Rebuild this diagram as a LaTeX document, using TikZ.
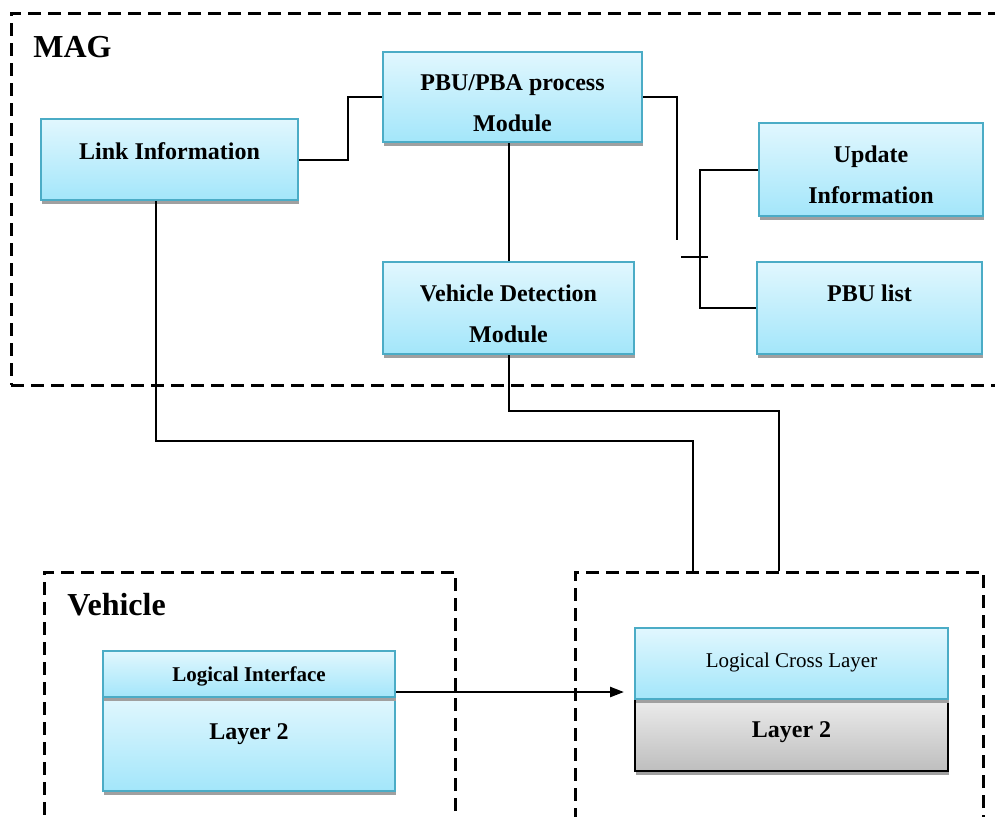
\documentclass[tikz,border=0pt]{standalone}
\usepackage{fontspec}
\setmainfont{Liberation Serif}
\usetikzlibrary{fit,shadows,arrows.meta}

\definecolor{boxtop}{RGB}{225,247,254}
\definecolor{boxbottom}{RGB}{163,230,250}
\definecolor{boxedge}{RGB}{75,172,198}
\definecolor{shadowgrey}{RGB}{160,160,160}
\definecolor{greytop}{RGB}{236,236,236}
\definecolor{greybottom}{RGB}{190,190,190}

\tikzset{
  module/.style={draw=boxedge, line width=1pt, top color=boxtop, bottom color=boxbottom, inner sep=0pt,
    general shadow={fill=shadowgrey, shadow xshift=0.3pt, shadow yshift=-2pt}},
  greymodule/.style={module, draw=black, top color=greytop, bottom color=greybottom},
  zonebox/.style={draw, line width=1.5pt, dash pattern=on 6.5pt off 3.5pt, inner sep=0pt},
  zonetext/.style={font=\fontsize{16}{19}\selectfont\bfseries, inner sep=0pt, anchor=base west},
  modtext/.style={font=\fontsize{12}{20.5}\selectfont\bfseries, align=center, inner sep=0pt, anchor=base},
  smalltext/.style={font=\fontsize{10.5}{13}\selectfont\bfseries, inner sep=0pt, anchor=base},
  conn/.style={line width=1pt},
  arrow/.style={line width=1.2pt, -{Triangle[length=7pt,width=5pt]}, shorten >=5pt}
}

\begin{document}
\begin{tikzpicture}[x=0.5pt, y=-0.5pt]

\useasboundingbox (0,0) rectangle (995,816);
\clip (0,0) rectangle (995,816);

\node [zonebox, fit={(11,13) (1020,385)}] (mag) {};
\node [zonetext] (magtxt) at (33,57) {MAG};

\node [module, fit={(41,119) (298,200)}] (link) {};
\node [modtext] (linktxt) at ([yshift=-20.5pt]link.north) {Link Information};

\node [module, fit={(383,52) (642,142)}] (pbu) {};
\node [modtext] (pbutxt) at ([yshift=-40pt]pbu.north) {PBU/PBA process\\Module};

\node [module, fit={(383,262) (634,354)}] (vdm) {};
\node [modtext] (vdmtxt) at ([yshift=-40.5pt]vdm.north) {Vehicle Detection\\Module};

\node [module, fit={(759,123) (983,216)}] (upd) {};
\node [modtext] (updtxt) at ([yshift=-40.5pt]upd.north) {Update\\Information};

\node [module, fit={(757,262) (982,354)}] (pbul) {};
\node [modtext] (pbultxt) at ([yshift=-20pt]pbul.north) {PBU list};

\draw [conn] (link.east) -- ++(49,0) |- (pbu.west);
\draw [conn] (pbu.east) -| ++(34,143);
\draw [conn] (vdm.north) -- (vdm.north |- pbu.south);
\coordinate (tick) at (681,257);
\draw [conn] (tick) -- ++(27,0);
\draw [conn] (upd.west) -- ++(-58,0) |- (pbul.west);

\node [zonebox, fit={(44,572) (455,840)}] (veh) {};
\node [zonetext] (vehtxt) at (67,615) {Vehicle};

\node [zonebox, fit={(575,572) (983,840)}] (cross) {};

\node [module, fit={(103,697) (395,791)}] (vl2) {};
\node [module, fit={(103,651) (395,697)}] (li) {};
\node [smalltext] (litxt) at ([yshift=-15.5pt]li.north) {Logical Interface};
\node [modtext] (vl2txt) at ([yshift=-21.5pt]vl2.north) {Layer 2};

\node [greymodule, fit={(635,699) (948,771)}] (cl2) {};
\node [module, fit={(635,628) (948,699)}] (lcl) {};
\node [smalltext, font=\fontsize{10.5}{13}\selectfont] (lcltxt) at ([yshift=-20pt]lcl.north) {Logical Cross Layer};
\node [modtext] (cl2txt) at ([yshift=-19.5pt]cl2.north) {Layer 2};

\draw [arrow] ([yshift=3pt]li.south east) -- ([yshift=3pt]li.south east -| lcl.west);

\draw [conn] ([xshift=-7pt]link.south) -- ++(0,240) -| ([xshift=-43pt]cross.north);
\draw [conn] (vdm.south) -- ++(0,56) -| (cross.north);

\end{tikzpicture}
\end{document}
